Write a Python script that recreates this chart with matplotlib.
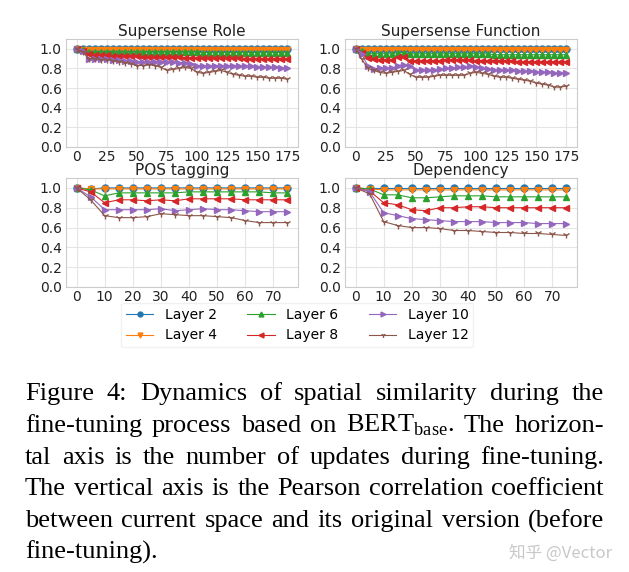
import numpy as np
import matplotlib.pyplot as plt

# x positions (number of updates)
x_super = list(range(0, 180, 5))   # 36 points
x_short = list(range(0, 80, 5))    # 16 points

layers = ["Layer 2", "Layer 4", "Layer 6", "Layer 8", "Layer 10", "Layer 12"]
colors = ["tab:blue", "tab:orange", "tab:green", "tab:red", "tab:purple", "tab:brown"]
markers = ["o", "v", "^", "<", ">", "1"]

# Supersense Role
role_l2 = [1.0, 1.0, 1.0, 1.0, 1.0, 1.0, 1.0, 1.0, 1.0, 1.0, 1.0, 1.0, 1.0, 1.0, 1.0, 1.0, 1.0, 1.0,
           1.0, 1.0, 1.0, 1.0, 1.0, 1.0, 1.0, 1.0, 1.0, 1.0, 1.0, 1.0, 1.0, 1.0, 1.0, 1.0, 1.0, 1.0]
role_l4 = [1.0, 0.99, 0.99, 0.99, 0.99, 0.99, 0.99, 0.99, 0.99, 0.99, 0.99, 0.99, 0.99, 0.99, 0.99, 0.99, 0.99, 0.99,
           0.99, 0.99, 0.99, 0.99, 0.99, 0.99, 0.99, 0.99, 0.99, 0.99, 0.99, 0.99, 0.99, 0.99, 0.99, 0.99, 0.99, 0.99]
role_l6 = [1.0, 0.99, 0.97, 0.97, 0.97, 0.97, 0.97, 0.97, 0.97, 0.97, 0.97, 0.97, 0.97, 0.97, 0.97, 0.97, 0.97, 0.97,
           0.97, 0.97, 0.97, 0.96, 0.96, 0.96, 0.96, 0.96, 0.96, 0.96, 0.96, 0.96, 0.96, 0.96, 0.96, 0.96, 0.96, 0.96]
role_l8 = [1.0, 0.98, 0.95, 0.94, 0.94, 0.94, 0.93, 0.93, 0.93, 0.93, 0.93, 0.92, 0.92, 0.92, 0.92, 0.92, 0.92, 0.92,
           0.91, 0.91, 0.91, 0.91, 0.91, 0.91, 0.91, 0.91, 0.91, 0.91, 0.90, 0.90, 0.90, 0.90, 0.90, 0.90, 0.90, 0.90]
role_l10 = [1.0, 0.98, 0.90, 0.90, 0.90, 0.90, 0.89, 0.89, 0.88, 0.88, 0.87, 0.87, 0.87, 0.87, 0.87, 0.87, 0.87, 0.86,
            0.86, 0.85, 0.83, 0.83, 0.82, 0.83, 0.83, 0.83, 0.83, 0.83, 0.82, 0.82, 0.81, 0.81, 0.81, 0.81, 0.80, 0.80]
role_l12 = [1.0, 0.97, 0.90, 0.90, 0.89, 0.89, 0.88, 0.87, 0.86, 0.85, 0.83, 0.83, 0.84, 0.83, 0.81, 0.78, 0.79, 0.80,
            0.81, 0.80, 0.76, 0.75, 0.76, 0.77, 0.78, 0.76, 0.74, 0.73, 0.72, 0.72, 0.71, 0.71, 0.70, 0.70, 0.70, 0.69]

# Supersense Function
func_l2 = [1.0, 1.0, 1.0, 1.0, 1.0, 1.0, 1.0, 1.0, 1.0, 1.0, 1.0, 1.0, 1.0, 1.0, 1.0, 1.0, 1.0, 1.0,
           1.0, 1.0, 1.0, 1.0, 1.0, 1.0, 1.0, 1.0, 1.0, 1.0, 1.0, 1.0, 1.0, 1.0, 1.0, 1.0, 1.0, 1.0]
func_l4 = [1.0, 0.99, 0.99, 0.99, 0.99, 0.99, 0.99, 0.99, 0.99, 0.99, 0.99, 0.99, 0.99, 0.99, 0.99, 0.99, 0.99, 0.99,
           0.99, 0.99, 0.99, 0.99, 0.99, 0.99, 0.99, 0.99, 0.99, 0.99, 0.99, 0.99, 0.99, 0.99, 0.99, 0.99, 0.99, 0.99]
func_l6 = [1.0, 0.98, 0.95, 0.95, 0.95, 0.95, 0.95, 0.96, 0.96, 0.95, 0.95, 0.95, 0.95, 0.95, 0.95, 0.95, 0.95, 0.95,
           0.95, 0.95, 0.95, 0.95, 0.95, 0.94, 0.94, 0.94, 0.94, 0.94, 0.94, 0.94, 0.94, 0.94, 0.94, 0.94, 0.94, 0.94]
func_l8 = [1.0, 0.96, 0.91, 0.90, 0.89, 0.89, 0.89, 0.92, 0.92, 0.88, 0.88, 0.88, 0.88, 0.88, 0.88, 0.89, 0.89, 0.89,
           0.89, 0.89, 0.88, 0.88, 0.88, 0.88, 0.88, 0.88, 0.88, 0.87, 0.87, 0.87, 0.87, 0.87, 0.87, 0.87, 0.87, 0.87]
func_l10 = [1.0, 0.95, 0.83, 0.79, 0.80, 0.80, 0.80, 0.83, 0.84, 0.82, 0.78, 0.78, 0.78, 0.78, 0.79, 0.80, 0.80, 0.81,
            0.81, 0.82, 0.81, 0.80, 0.79, 0.78, 0.78, 0.78, 0.78, 0.77, 0.77, 0.77, 0.76, 0.76, 0.76, 0.75, 0.75, 0.75]
func_l12 = [1.0, 0.90, 0.80, 0.78, 0.76, 0.75, 0.76, 0.77, 0.78, 0.74, 0.71, 0.71, 0.71, 0.72, 0.73, 0.73, 0.73, 0.73,
            0.73, 0.75, 0.76, 0.75, 0.74, 0.72, 0.71, 0.71, 0.70, 0.69, 0.68, 0.67, 0.65, 0.64, 0.63, 0.61, 0.61, 0.62]

# POS tagging
pos_l2 = [1.0, 0.99, 1.0, 1.0, 1.0, 1.0, 1.0, 1.0, 1.0, 1.0, 1.0, 1.0, 1.0, 1.0, 1.0, 1.0]
pos_l4 = [1.0, 0.99, 0.99, 0.99, 0.99, 0.99, 0.99, 0.99, 0.99, 0.99, 0.99, 0.99, 0.99, 0.99, 0.99, 0.99]
pos_l6 = [1.0, 0.98, 0.92, 0.95, 0.95, 0.95, 0.95, 0.95, 0.96, 0.96, 0.96, 0.96, 0.96, 0.96, 0.95, 0.95]
pos_l8 = [1.0, 0.96, 0.85, 0.88, 0.88, 0.87, 0.88, 0.87, 0.89, 0.89, 0.89, 0.89, 0.88, 0.88, 0.88, 0.88]
pos_l10 = [1.0, 0.91, 0.78, 0.78, 0.78, 0.78, 0.79, 0.77, 0.78, 0.79, 0.78, 0.78, 0.77, 0.76, 0.76, 0.76]
pos_l12 = [1.0, 0.88, 0.72, 0.70, 0.70, 0.71, 0.74, 0.73, 0.72, 0.72, 0.71, 0.70, 0.67, 0.65, 0.65, 0.65]

# Dependency
dep_l2 = [1.0, 1.0, 1.0, 1.0, 1.0, 1.0, 1.0, 1.0, 1.0, 1.0, 1.0, 1.0, 1.0, 1.0, 1.0, 1.0]
dep_l4 = [1.0, 0.99, 0.98, 0.98, 0.98, 0.98, 0.98, 0.98, 0.98, 0.98, 0.98, 0.98, 0.98, 0.98, 0.98, 0.98]
dep_l6 = [1.0, 0.99, 0.93, 0.93, 0.90, 0.90, 0.91, 0.92, 0.92, 0.92, 0.91, 0.91, 0.91, 0.91, 0.91, 0.91]
dep_l8 = [1.0, 0.97, 0.85, 0.83, 0.78, 0.77, 0.80, 0.80, 0.81, 0.81, 0.80, 0.80, 0.80, 0.80, 0.80, 0.80]
dep_l10 = [1.0, 0.96, 0.75, 0.72, 0.69, 0.68, 0.67, 0.66, 0.66, 0.66, 0.65, 0.65, 0.65, 0.64, 0.64, 0.64]
dep_l12 = [1.0, 0.94, 0.66, 0.62, 0.60, 0.60, 0.59, 0.57, 0.57, 0.56, 0.55, 0.55, 0.54, 0.54, 0.53, 0.52]

panels = [
    ("Supersense Role", x_super, [role_l2, role_l4, role_l6, role_l8, role_l10, role_l12], [0, 25, 50, 75, 100, 125, 150, 175]),
    ("Supersense Function", x_super, [func_l2, func_l4, func_l6, func_l8, func_l10, func_l12], [0, 25, 50, 75, 100, 125, 150, 175]),
    ("POS tagging", x_short, [pos_l2, pos_l4, pos_l6, pos_l8, pos_l10, pos_l12], [0, 10, 20, 30, 40, 50, 60, 70]),
    ("Dependency", x_short, [dep_l2, dep_l4, dep_l6, dep_l8, dep_l10, dep_l12], [0, 10, 20, 30, 40, 50, 60, 70]),
]

W, H = 629, 572
fig = plt.figure(figsize=(W / 100, H / 100), dpi=100)

# axes boxes in pixels: left, top, right, bottom
boxes = [(66, 39, 298, 147), (345, 39, 577, 147), (66, 178, 298, 287), (345, 178, 577, 287)]

handles = None
for (title, xs, series, xt), (l, t, r, b) in zip(panels, boxes):
    ax = fig.add_axes([l / W, 1 - b / H, (r - l) / W, (b - t) / H])
    lines = []
    for ys, lab, c, m in zip(series, layers, colors, markers):
        ln, = ax.plot(xs, ys, color=c, marker=m, markersize=5, linewidth=0.8, label=lab)
        lines.append(ln)
    handles = lines
    ax.set_ylim(0, 1.1)
    ax.set_yticks([0.0, 0.2, 0.4, 0.6, 0.8, 1.0])
    ax.set_yticklabels(["0.0", "0.2", "0.4", "0.6", "0.8", "1.0"])
    ax.set_xticks(xt)
    ax.grid(True, color="#e5e5e5", linewidth=0.8)
    ax.set_axisbelow(True)
    for s in ax.spines.values():
        s.set_color("#cccccc")
        s.set_linewidth(0.8)
    ax.tick_params(axis="x", length=0, labelsize=10, pad=2, colors="#222222")
    ax.tick_params(axis="y", length=0, labelsize=10, pad=3, colors="#222222")
    ax.set_title(title, fontsize=11, pad=0.5, color="#222222")

fig.legend(handles=handles, labels=layers, loc="center", bbox_to_anchor=(297 / W, 1 - 325 / H),
           ncol=3, fontsize=10, frameon=True, edgecolor="#eeeeee", fancybox=True,
           columnspacing=2.2, handlelength=2.0, labelspacing=0.5, borderpad=0.35, markerscale=0.7)

# caption, justified line by line
serif = "Liberation Serif"
cap_fs = 19
caption_lines = [
    (["Figure", "4:", "Dynamics", "of", "spatial", "similarity", "during", "the"], True),
    (["fine-tuning", "process", "based", "on", r"BERT$_\mathregular{base}$.", "The", "horizon-"], True),
    (["tal", "axis", "is", "the", "number", "of", "updates", "during", "fine-tuning."], True),
    (["The", "vertical", "axis", "is", "the", "Pearson", "correlation", "coefficient"], True),
    (["between", "current", "space", "and", "its", "original", "version", "(before"], True),
    (["fine-tuning)."], False),
]
x_left, x_right = 25, 604
base0, step = 400, 31.8

renderer = fig.canvas.get_renderer()
for i, (words, just) in enumerate(caption_lines):
    y = 1 - (base0 + i * step) / H
    texts = [fig.text(0, y, w, fontsize=cap_fs, family=serif, va="baseline", color="black") for w in words]
    widths = [t.get_window_extent(renderer).width for t in texts]
    if just and len(words) > 1:
        gap = (x_right - x_left - sum(widths)) / (len(words) - 1)
    else:
        gap = 0.25 * cap_fs * 100 / 72
    xp = x_left
    for t, w in zip(texts, widths):
        t.set_x(xp / W)
        xp += w + gap

fig.text(612 / W, 1 - 558 / H, "知乎 @Vector", fontsize=12, color="#c8c8c8", ha="right", va="baseline",
         family=["Noto Sans CJK SC", "DejaVu Sans"])

fig.savefig("out.png", dpi=100)
